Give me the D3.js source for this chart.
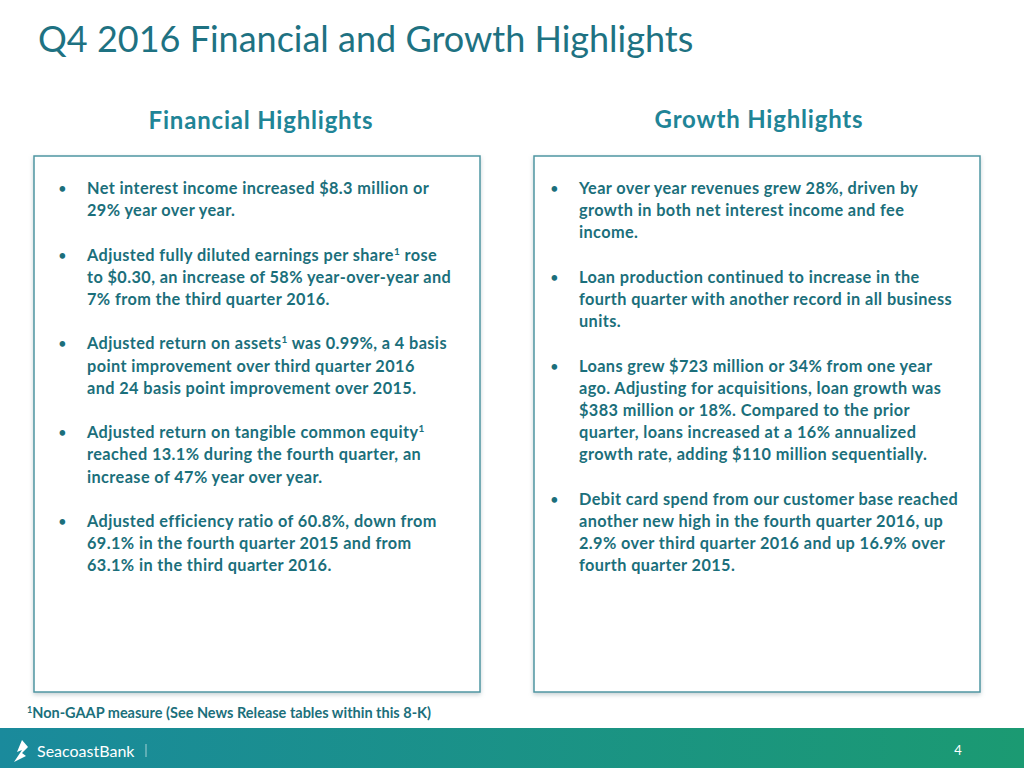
<!DOCTYPE html>
<html><head><meta charset="utf-8">
<script src="https://cdn.jsdelivr.net/npm/d3@7"></script>
<style>body{margin:0;background:#fff}svg{display:block}</style>
</head><body>
<script>
const title = "Q4 2016 Financial and Growth Highlights";
const panelTitles = ["Financial Highlights", "Growth Highlights"];
// each bullet: [starting line index, lines]; "^1" marks a superscript 1
const leftBullets = [
  [0, ["Net interest income increased $8.3 million or", "29% year over year."]],
  [3, ["Adjusted fully diluted earnings per share^1 rose", "to $0.30, an increase of 58% year-over-year and", "7% from the third quarter 2016."]],
  [7, ["Adjusted return on assets^1 was 0.99%, a 4 basis", "point improvement over third quarter 2016", "and 24 basis point improvement over 2015."]],
  [11, ["Adjusted return on tangible common equity^1", "reached 13.1% during the fourth quarter, an", "increase of 47% year over year."]],
  [15, ["Adjusted efficiency ratio of 60.8%, down from", "69.1% in the fourth quarter 2015 and from", "63.1% in the third quarter 2016."]]
];
const rightBullets = [
  [0, ["Year over year revenues grew 28%, driven by", "growth in both net interest income and fee", "income."]],
  [4, ["Loan production continued to increase in the", "fourth quarter with another record in all business", "units."]],
  [8, ["Loans grew $723 million or 34% from one year", "ago.  Adjusting for acquisitions, loan growth was", "$383 million or 18%.  Compared to the prior", "quarter, loans increased at a 16% annualized", "growth rate, adding $110 million sequentially."]],
  [14, ["Debit card spend from our customer base reached", "another new high in the fourth quarter 2016, up", "2.9% over third quarter 2016 and up 16.9% over", "fourth quarter 2015."]]
];
const footnote = "Non-GAAP measure (See News Release tables within this 8-K)";
const pageNum = "4";

const W = 1024, H = 768, teal = "#1b6f7b", font = "Lato, 'Open Sans', sans-serif";
const svg = d3.select("body").append("svg").attr("width", W).attr("height", H);
const defs = svg.append("defs");
const g = defs.append("linearGradient").attr("id", "foot");
g.append("stop").attr("offset", "0%").attr("stop-color", "#1a8a9c");
g.append("stop").attr("offset", "100%").attr("stop-color", "#1b9a72");
const sh = defs.append("filter").attr("id","sh").attr("x","-5%").attr("y","-5%").attr("width","110%").attr("height","110%");
sh.append("feDropShadow").attr("dx",0).attr("dy",2).attr("stdDeviation",2).attr("flood-color","#9fb3b8").attr("flood-opacity",0.6);

svg.append("text").attr("x", 38).attr("y", 52).attr("font-family", font).attr("font-size", 36)
  .attr("fill", "#1e7282").text(title);

const lineY = d3.scaleLinear().domain([0, 1]).range([194, 216.2]);
const panels = [{x: 34, cx: 261, bullets: leftBullets, ty: 129, off: 53}, {x: 534, cx: 759, bullets: rightBullets, ty: 128, off: 45}];
panels.forEach((p, i) => {
  svg.append("text").attr("x", p.cx).attr("y", p.ty).attr("text-anchor", "middle")
    .attr("font-family", font).attr("font-weight", 700).attr("font-size", 24).attr("letter-spacing", 0.8)
    .attr("fill", "#1f8597").text(panelTitles[i]);
  svg.append("rect").attr("x", p.x).attr("y", 156).attr("width", 446).attr("height", 536)
    .attr("fill", "#fff").attr("stroke", "#4e97a3").attr("stroke-width", 1.5).attr("filter","url(#sh)");
  p.bullets.forEach(([start, lines]) => {
    svg.append("text").attr("x", p.x + p.off - 29).attr("y", lineY(start)).attr("font-family", font)
      .attr("font-size", 15).attr("fill", teal).text("•");
    lines.forEach((ln, k) => {
      const t = svg.append("text").attr("x", p.x + p.off).attr("y", lineY(start + k))
        .attr("font-family", font).attr("font-weight", 700).attr("font-size", 16.3)
        .attr("letter-spacing", 0.4).attr("fill", teal);
      ln.split("^1").forEach((part, j) => {
        if (j > 0) t.append("tspan").attr("dy", -6).attr("font-size", 10).text("1");
        t.append("tspan").attr("dy", j > 0 ? 6 : 0).text(part);
      });
    });
  });
});

const fn = svg.append("text").attr("x", 27).attr("y", 718).attr("font-family", font)
  .attr("font-weight", 700).attr("font-size", 14.5).attr("fill", teal);
fn.append("tspan").attr("dy", -5).attr("font-size", 9).text("1");
fn.append("tspan").attr("dy", 5).text(footnote);

svg.append("rect").attr("x", 0).attr("y", 728).attr("width", W).attr("height", 40).attr("fill", "url(#foot)");
svg.append("path").attr("d", "M22,740 L17,752 L22,750 L14,762 L26,756 L22,753 L28,747 Z").attr("fill", "#fff");
svg.append("text").attr("x", 37).attr("y", 757).attr("font-family", font).attr("font-size", 16)
  .attr("fill", "#fff").text("SeacoastBank");
svg.append("line").attr("x1", 146).attr("x2", 146).attr("y1", 744).attr("y2", 757).attr("stroke", "#fff").attr("stroke-opacity", 0.6);
svg.append("text").attr("x", 958).attr("y", 755).attr("text-anchor", "middle").attr("font-family", font)
  .attr("font-size", 13).attr("fill", "#fff").text(pageNum);
</script>
</body></html>
